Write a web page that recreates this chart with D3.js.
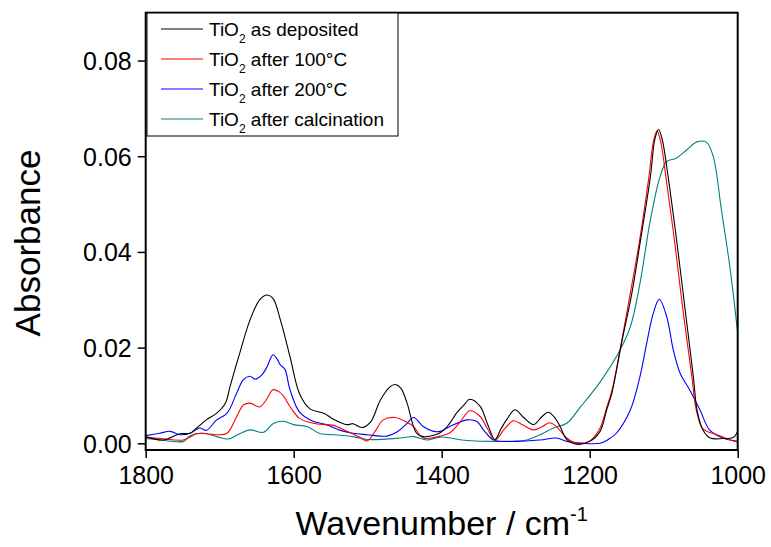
<!DOCTYPE html>
<html>
<head>
<meta charset="utf-8">
<script src="https://cdn.jsdelivr.net/npm/d3@7"></script>
<style>
  html, body { margin: 0; padding: 0; background: #fff; }
  svg { display: block; font-family: "Liberation Sans", Arial, sans-serif; }
</style>
</head>
<body>
<svg id="chart" width="771" height="547"></svg>
<script>
// FTIR absorbance spectra of TiO2 films, [wavenumber (cm-1), absorbance]
const asDeposited = [
  [1800,0.0014],[1776,0.0007],[1754,0.002],[1740,0.0021],[1731,0.0032],[1718,0.0049],
  [1704,0.0063],[1692,0.0085],[1686,0.0119],[1673,0.0188],[1659,0.0258],[1646,0.030],
  [1636,0.031],[1628,0.0303],[1618,0.0258],[1605,0.0181],[1592,0.0103],[1578,0.0072],
  [1564,0.0065],[1558,0.0062],[1547,0.0051],[1528,0.0039],[1520,0.0041],[1508,0.0033],
  [1496,0.0045],[1483,0.009],[1470,0.0118],[1463,0.0123],[1455,0.0115],[1447,0.0085],
  [1434,0.0021],[1425,0.0014],[1402,0.0022],[1390,0.004],[1380,0.0063],[1370,0.008],
  [1362,0.0092],[1348,0.0077],[1338,0.004],[1328,0.0008],[1320,0.003],[1312,0.005],
  [1301,0.007],[1290,0.0055],[1276,0.0039],[1265,0.0055],[1256,0.0065],[1248,0.0055],
  [1240,0.0035],[1231,0.0008],[1218,-0.0002],[1200,0.0004],[1186,0.0025],[1177,0.007],
  [1170,0.0105],[1157,0.0209],[1143,0.0314],[1132,0.0418],[1118,0.0557],[1112,0.0635],
  [1107,0.0656],[1102,0.0635],[1094,0.0557],[1082,0.0418],[1071,0.0279],[1060,0.014],
  [1055,0.007],[1047,0.0028],[1037,0.0011],[1020,0.0010],[1006,0.0012],[1000,0.0025]
];
const after100 = [
  [1800,0.0012],[1780,0.001],[1749,0.0007],[1731,0.002],[1722,0.0021],[1704,0.0018],
  [1690,0.0021],[1677,0.0056],[1668,0.008],[1659,0.0084],[1646,0.0076],[1637,0.0091],
  [1628,0.0112],[1620,0.0108],[1614,0.0099],[1605,0.0077],[1592,0.0052],[1574,0.0042],
  [1556,0.0039],[1547,0.0038],[1528,0.0025],[1510,0.0012],[1501,0.0005],[1490,0.0025],
  [1479,0.0049],[1463,0.0054],[1447,0.0044],[1438,0.0035],[1425,0.0011],[1402,0.0015],
  [1389,0.0022],[1375,0.0045],[1362,0.0068],[1348,0.0056],[1338,0.003],[1328,0.0007],
  [1315,0.003],[1303,0.0047],[1290,0.0038],[1276,0.0028],[1264,0.0035],[1254,0.0043],
  [1245,0.0035],[1231,0.0011],[1218,0.0],[1200,0.0005],[1186,0.0032],[1177,0.0075],
  [1170,0.011],[1157,0.0212],[1145,0.0315],[1133,0.042],[1120,0.0557],[1114,0.063],
  [1109,0.0653],[1104,0.063],[1097,0.0557],[1085,0.0418],[1074,0.0279],[1062,0.014],
  [1056,0.007],[1047,0.003],[1028,0.0018],[1010,0.0007],[1000,0.0002]
];
const after200 = [
  [1800,0.0016],[1781,0.0021],[1767,0.0025],[1754,0.0018],[1740,0.0021],[1727,0.0032],
  [1718,0.0027],[1704,0.0049],[1690,0.0063],[1677,0.0105],[1668,0.0133],[1659,0.014],
  [1652,0.0134],[1643,0.0143],[1636,0.016],[1628,0.0185],[1622,0.0175],[1618,0.0164],
  [1612,0.0155],[1605,0.0112],[1592,0.0065],[1574,0.0046],[1556,0.0039],[1537,0.0027],
  [1520,0.0021],[1501,0.0018],[1474,0.0015],[1460,0.0024],[1448,0.004],[1438,0.0054],
  [1425,0.0035],[1411,0.0025],[1402,0.0025],[1389,0.0035],[1366,0.0049],[1353,0.0046],
  [1342,0.0025],[1330,0.0007],[1299,0.0004],[1267,0.0007],[1245,0.0011],[1231,0.0004],
  [1209,0.0],[1186,0.0],[1175,0.0008],[1164,0.0021],[1145,0.007],[1132,0.014],
  [1123,0.0209],[1114,0.0272],[1106,0.0301],[1096,0.0265],[1087,0.0195],[1078,0.0147],
  [1065,0.0112],[1051,0.007],[1038,0.0028],[1020,0.0011],[1000,0.0004]
];
const afterCalcination = [
  [1800,0.001],[1781,0.0007],[1749,0.0004],[1740,0.0016],[1724,0.0021],[1704,0.0014],
  [1688,0.0009],[1673,0.002],[1659,0.0028],[1641,0.0023],[1628,0.0041],[1614,0.0046],
  [1600,0.0039],[1582,0.0035],[1564,0.002],[1546,0.0018],[1520,0.0014],[1501,0.0008],
  [1456,0.0011],[1438,0.0014],[1420,0.0007],[1402,0.0013],[1366,0.0006],[1321,0.0004],
  [1285,0.0007],[1267,0.0018],[1249,0.0032],[1231,0.0042],[1213,0.0075],[1186,0.0128],
  [1159,0.0195],[1145,0.0244],[1132,0.0335],[1118,0.0467],[1105,0.0557],[1096,0.0589],
  [1083,0.0596],[1069,0.0613],[1055,0.063],[1042,0.0629],[1033,0.0599],[1022,0.0488],
  [1010,0.0362],[1000,0.023]
];

const seriesNames = ["as deposited", "after 100\u00B0C", "after 200\u00B0C", "after calcination"];
const seriesColors = ["#000000", "#ff0000", "#0000ff", "#008080"];
const seriesData = [asDeposited, after100, after200, afterCalcination];

const xTicks = [1800, 1600, 1400, 1200, 1000];
const yTicks = [0.00, 0.02, 0.04, 0.06, 0.08];
const xDomain = [1800, 1000];
const yDomain = [-0.0014, 0.09];

const svg = d3.select("#chart");
const plot = { left: 145.7, right: 737.7, top: 12.7, bottom: 450 };

const x = d3.scaleLinear().domain(xDomain).range([plot.left, plot.right]);
const y = d3.scaleLinear().domain(yDomain).range([plot.bottom, plot.top]);

// clip spectra to the frame
svg.append("defs").append("clipPath").attr("id", "clip")
  .append("rect")
  .attr("x", plot.left).attr("y", plot.top)
  .attr("width", plot.right - plot.left).attr("height", plot.bottom - plot.top);

const line = d3.line()
  .x(d => x(d[0]))
  .y(d => y(d[1]))
  .curve(d3.curveCatmullRom.alpha(0.5));

const g = svg.append("g").attr("clip-path", "url(#clip)");
// draw in reverse so the black trace sits on top
seriesData.map((d, i) => i).reverse().forEach(i => {
  g.append("path")
    .datum(seriesData[i])
    .attr("fill", "none")
    .attr("stroke", seriesColors[i])
    .attr("stroke-width", 1.1)
    .attr("d", line);
});

// axes
const xAxis = d3.axisBottom(x).tickValues(xTicks).tickSize(8).tickPadding(8)
  .tickFormat(d3.format("d"));
const yAxis = d3.axisLeft(y).tickValues(yTicks).tickSize(8).tickPadding(6)
  .tickFormat(d3.format(".2f"));

const gx = svg.append("g").attr("transform", `translate(0,${plot.bottom})`).call(xAxis);
const gy = svg.append("g").attr("transform", `translate(${plot.left},0)`).call(yAxis);
[gx, gy].forEach(a => {
  a.select(".domain").remove();
  a.selectAll(".tick line").attr("stroke", "#000").attr("stroke-width", 1.5);
  a.selectAll(".tick text").attr("fill", "#000")
    .style("font-size", "25px").style("font-family", "'Liberation Sans', Arial, sans-serif");
});
gx.selectAll(".tick text").attr("dy", "0.71em");
gy.selectAll(".tick text").attr("dy", "0.36em");

// frame
svg.append("rect")
  .attr("x", plot.left).attr("y", plot.top)
  .attr("width", plot.right - plot.left).attr("height", plot.bottom - plot.top)
  .attr("fill", "none").attr("stroke", "#000").attr("stroke-width", 2);

// axis titles
svg.append("text")
  .attr("transform", `translate(40,243) rotate(-90)`)
  .attr("text-anchor", "middle")
  .style("font-size", "35px")
  .text("Absorbance");

const xt = svg.append("text")
  .attr("x", (plot.left + plot.right) / 2)
  .attr("y", 535)
  .attr("text-anchor", "middle")
  .style("font-size", "34px");
xt.append("tspan").text("Wavenumber / cm");
xt.append("tspan").attr("dy", -14).style("font-size", "20px").text("-1");

// legend
const legend = svg.append("g");
legend.append("rect")
  .attr("x", 147).attr("y", 13).attr("width", 251).attr("height", 123)
  .attr("fill", "#fff").attr("stroke", "#000").attr("stroke-width", 1);
seriesNames.forEach((name, i) => {
  const cy = 29 + i * 30;
  legend.append("line")
    .attr("x1", 161).attr("x2", 203).attr("y1", cy).attr("y2", cy)
    .attr("stroke", seriesColors[i]).attr("stroke-width", 1.1);
  const t = legend.append("text")
    .attr("x", 209).attr("y", cy + 7)
    .style("font-size", "19px");
  t.append("tspan").text("TiO");
  t.append("tspan").attr("dy", 7).style("font-size", "12px").text("2");
  t.append("tspan").attr("dy", -7).text(" " + name);
});
</script>
</body>
</html>
